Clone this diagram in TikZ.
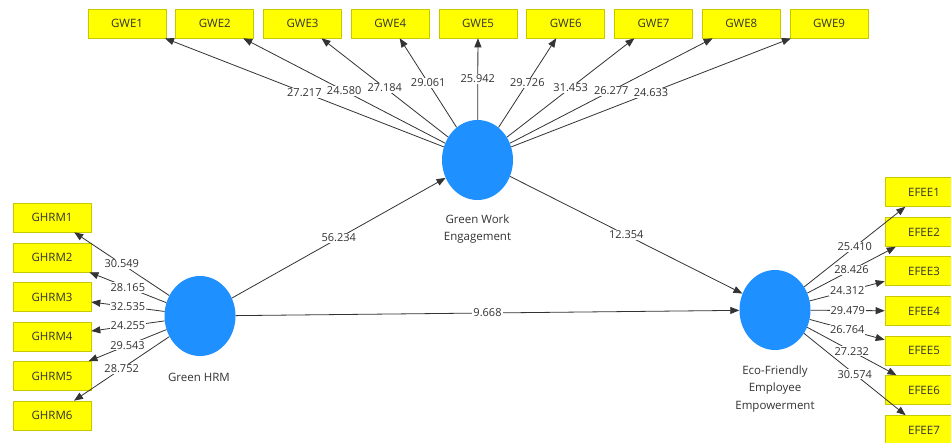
\documentclass[tikz,border=0pt]{standalone}
\usepackage{fontspec}
\setmainfont{Open Sans}
\usetikzlibrary{arrows.meta,shapes.geometric}
\definecolor{lvblue}{HTML}{1E90FF}
\definecolor{indyel}{HTML}{FFFF00}
\definecolor{indbord}{HTML}{C8C800}
\definecolor{txtgray}{HTML}{333333}
\begin{document}
\begin{tikzpicture}[x=1pt,y=-1pt,
  latent/.style={ellipse, fill=lvblue, minimum width=71pt, minimum height=80pt, inner sep=0pt},
  indic/.style={rectangle, draw=indbord, line width=0.6pt, fill=indyel, minimum width=78pt, minimum height=29pt, inner sep=0pt, text=txtgray, font=\fontsize{11.5}{13}\selectfont},
  link/.style={draw=black!80, line width=0.8pt, -{Triangle[length=9pt,width=7pt]}},
  val/.style={fill=white, inner sep=1pt, text=txtgray, font=\fontsize{11}{12}\selectfont},
  lvlab/.style={align=center, text=txtgray, font=\fontsize{11.5}{17.5}\selectfont}]
\clip (0,0) rectangle (951,443);
\fill[white] (0,0) rectangle (951,443);
% latent variables
\node[latent] (gwe) at (477.5,160) {};
\node[latent] (hrm) at (200,316) {};
\node[latent] (efe) at (775,310) {};
\node[lvlab] (gwel) at (477.5,229) {Green Work\\Engagement};
\node[lvlab] (hrml) at (199,377) {Green HRM};
\node[lvlab] (efel) at (775,389) {Eco-Friendly\\Employee\\Empowerment};
% GWE indicators
\foreach \i in {1,...,9} {
  \node[indic] (g\i) at ({127+87.75*(\i-1)},23.5) {GWE\i};
}
% GHRM indicators
\foreach \i/\y in {1/217.5,2/257.5,3/297,4/336.5,5/376,6/415.5} {
  \node[indic] (h\i) at (52,\y) {GHRM\i};
}
% EFEE indicators
\foreach \i/\y in {1/192,2/232,3/271,4/311,5/350.5,6/390,7/430} {
  \node[indic] (e\i) at (924,\y) {EFEE\i};
}
% GWE loadings
\foreach \i/\v in {1/27.217,2/24.580,3/27.184,4/29.061,5/25.942,6/29.726,7/31.453,8/26.277,9/24.633} {
  \draw[link] (gwe) -- node[val] {\v} (g\i);
}
% GHRM loadings
\foreach \i/\v in {1/30.549,2/28.165,3/32.535,4/24.255,5/29.543,6/28.752} {
  \draw[link] (hrm) -- node[val] {\v} (h\i);
}
% EFEE loadings
\foreach \i/\v in {1/25.410,2/28.426,3/24.312,4/29.479,5/26.764,6/27.232,7/30.574} {
  \draw[link] (efe) -- node[val] {\v} (e\i);
}
% structural paths
\draw[link] (hrm) -- node[val] {56.234} (gwe);
\draw[link] (gwe) -- node[val] {12.354} (efe);
\draw[link] (hrm) -- node[val] {9.668} (efe);
\end{tikzpicture}
\end{document}
